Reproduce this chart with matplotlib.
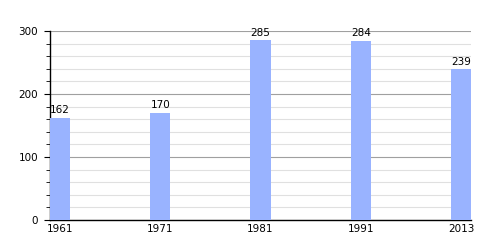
import matplotlib
matplotlib.use("Agg")
import matplotlib.pyplot as plt
from matplotlib.ticker import MultipleLocator

#===== DATA =====
years = ["1961", "1971", "1981", "1991", "2013"]
population = [162, 170, 285, 284, 239]

BAR_COLOR = "#99b3ff"

#===== PLOT =====
fig = plt.figure(figsize=(5, 2.5), dpi=100)
ax = fig.add_axes([0.1, 0.12, 0.842, 0.756])

x = range(len(years))
bars = ax.bar(x, population, width=0.2, color=BAR_COLOR, zorder=3)

for xi, v in zip(x, population):
    ax.annotate(str(v), (xi, v), xytext=(0, 2), textcoords="offset points",
                ha="center", va="bottom", fontsize=7.5, zorder=4)

ax.set_xlim(-0.1, 4.1)
ax.set_ylim(0, 300)
ax.set_xticks(list(x))
ax.set_xticklabels(years)
ax.yaxis.set_major_locator(MultipleLocator(100))
ax.yaxis.set_minor_locator(MultipleLocator(20))

ax.grid(which="major", axis="y", color="#a0a0a0", linewidth=0.8, zorder=1)
ax.grid(which="minor", axis="y", color="#e0e0e0", linewidth=0.8, zorder=0)

for s in ["top", "right"]:
    ax.spines[s].set_visible(False)
ax.spines["left"].set_linewidth(1)
ax.spines["bottom"].set_linewidth(1)

ax.tick_params(axis="x", length=0, labelsize=7.5, pad=3)
ax.tick_params(axis="y", which="major", length=4, labelsize=7.5, pad=4.5)
ax.tick_params(axis="y", which="minor", length=3)

fig.savefig("out.png", dpi=100)
